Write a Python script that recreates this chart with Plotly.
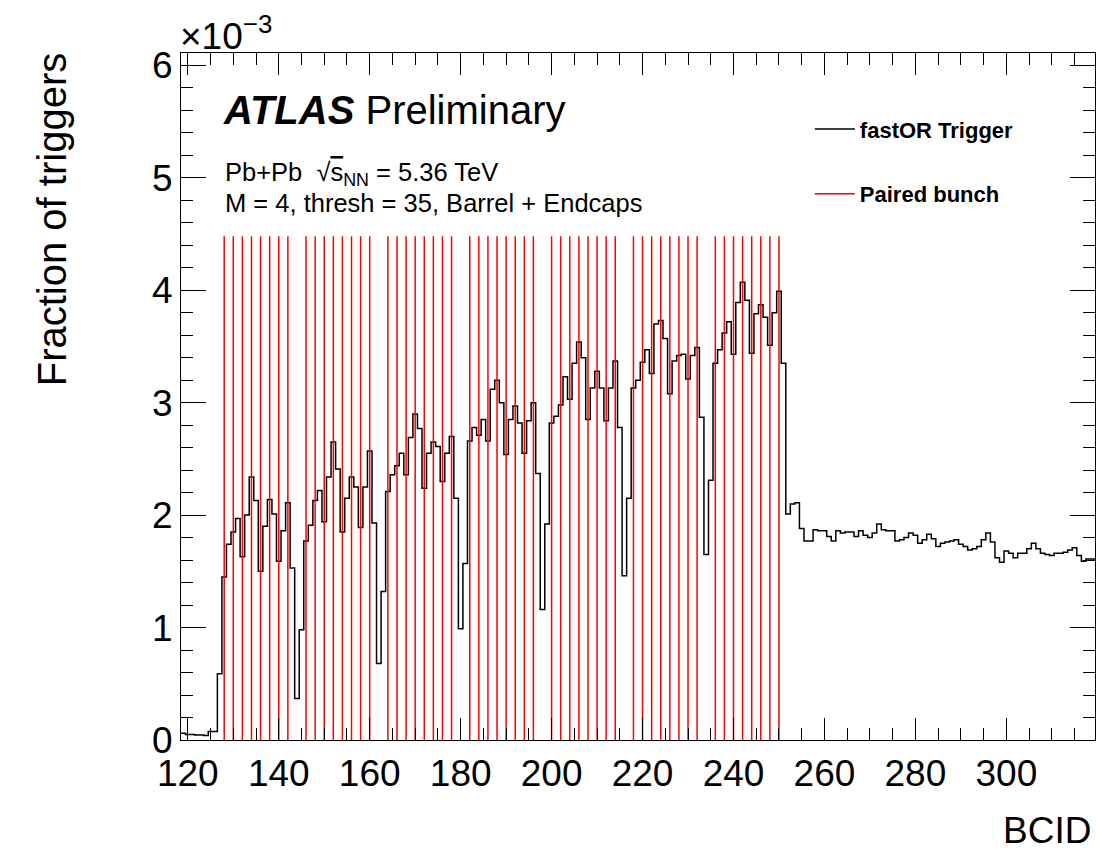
import plotly.graph_objects as go

# ---------------- data ----------------
first_bcid = 119
# Fraction of triggers per BCID, in units of 1e-3 (bins 119 .. 319)
fraction_e3 = [
    0.06, 0.05, 0.05, 0.045, 0.045, 0.04, 0.075, 0.075, 0.59,          # 119-127
    1.45, 1.74, 1.85, 1.97, 1.63, 2.00, 2.34, 2.13, 1.50, 1.90,        # 128-137
    2.14, 2.01, 1.59, 1.86, 2.11, 1.53, 0.37, 0.98, 1.77, 1.91,        # 138-147
    2.13, 2.22, 1.94, 2.34, 2.65, 2.41, 1.85, 2.15, 2.34, 2.25,        # 148-157
    1.89, 2.25, 2.57, 1.93, 0.68, 1.32, 2.21, 2.36, 2.44, 2.55,        # 158-167
    2.36, 2.69, 2.90, 2.77, 2.24, 2.55, 2.65, 2.61, 2.30, 2.55,        # 168-177
    2.70, 2.15, 0.99, 1.57, 2.66, 2.78, 2.71, 2.85, 2.66, 3.12,        # 178-187
    3.20, 3.00, 2.54, 2.85, 2.97, 2.82, 2.55, 2.84, 3.00, 2.37,        # 188-197
    1.16, 1.92, 2.82, 2.88, 2.98, 3.23, 3.03, 3.35, 3.54, 3.40,        # 198-207
    2.85, 3.13, 3.28, 3.13, 2.84, 3.13, 3.37, 2.78, 1.46, 2.15,        # 208-217
    3.13, 3.20, 3.36, 3.47, 3.26, 3.70, 3.73, 3.57, 3.08, 3.37,        # 218-227
    3.42, 3.43, 3.21, 3.42, 3.49, 2.87, 1.65, 2.31, 3.35, 3.47,        # 228-237
    3.62, 3.72, 3.43, 3.89, 4.07, 3.91, 3.44, 3.79, 3.87, 3.76,        # 238-247
    3.51, 3.80, 3.99, 3.35, 2.01, 2.10, 2.11, 1.88, 1.77, 1.77,        # 248-257
    1.87, 1.86, 1.86, 1.81, 1.77, 1.86, 1.84, 1.85, 1.85, 1.81,        # 258-267
    1.86, 1.82, 1.80, 1.84, 1.92, 1.87, 1.86, 1.86, 1.77, 1.78,        # 268-277
    1.80, 1.84, 1.82, 1.75, 1.78, 1.83, 1.79, 1.72, 1.75, 1.76,        # 278-287
    1.77, 1.78, 1.74, 1.72, 1.69, 1.70, 1.72, 1.78, 1.84, 1.76,        # 288-297
    1.62, 1.58, 1.68, 1.66, 1.62, 1.66, 1.66, 1.70, 1.75, 1.70,        # 298-307
    1.66, 1.65, 1.64, 1.66, 1.66, 1.67, 1.69, 1.71, 1.64, 1.59,        # 308-317
    1.61, 1.61,                                                        # 318-319
]
bcids = list(range(first_bcid, first_bcid + len(fraction_e3)))

paired_bunches = [
    128, 130, 132, 134, 136, 138, 140, 142,
    146, 148, 150, 152, 154, 156, 158, 160,
    164, 166, 168, 170, 172, 174, 176, 178,
    182, 184, 186, 188, 190, 192, 194, 196,
    200, 202, 204, 206, 208, 210, 212, 214,
    218, 220, 222, 224, 226, 228, 230, 232,
    236, 238, 240, 242, 244, 246, 248, 250,
]
paired_line_height_e3 = 4.48

x_tick_values = [120, 140, 160, 180, 200, 220, 240, 260, 280, 300]
y_tick_values = [0, 1, 2, 3, 4, 5, 6]

# ---------------- figure ----------------
FONT = "Liberation Sans, Arial, Helvetica, sans-serif"

# histogram as step line built from bin edges
edges = [b - 0.5 for b in bcids] + [bcids[-1] + 0.5]
step_y = fraction_e3 + [fraction_e3[-1]]

red_x, red_y = [], []
for b in paired_bunches:
    red_x += [b, b, None]
    red_y += [0, paired_line_height_e3, None]

fig = go.Figure()
fig.add_trace(go.Scatter(
    x=edges, y=step_y, mode="lines", line_shape="hv",
    line=dict(color="black", width=1.5),
    name="<b>fastOR Trigger</b>", legend="legend",
))
fig.add_trace(go.Scatter(
    x=red_x, y=red_y, mode="lines",
    line=dict(color="rgb(255,0,0)", width=1.5),
    name="<b>Paired bunch</b>", legend="legend2",
))

axis_common = dict(
    showgrid=False, zeroline=False, showline=True, linecolor="black",
    linewidth=1.2, mirror="ticks", ticks="inside", tickcolor="black",
    tickwidth=1.2, tickfont=dict(family=FONT, size=37, color="black"),
)

fig.update_layout(
    width=1100, height=856,
    margin=dict(l=181, r=5, t=53, b=116),
    paper_bgcolor="white", plot_bgcolor="white",
    font=dict(family=FONT, color="black"),
    xaxis=dict(range=[118.5, 319.5], tickvals=x_tick_values, ticklen=22,
               minor=dict(ticks="inside", ticklen=12, dtick=5, tick0=120,
                          tickcolor="black", tickwidth=1.2),
               **axis_common),
    yaxis=dict(range=[0, 6.11], tickvals=y_tick_values, ticklen=25,
               minor=dict(ticks="inside", ticklen=12, dtick=0.2, tick0=0,
                          tickcolor="black", tickwidth=1.2),
               **axis_common),
    legend=dict(x=0.688, y=0.889, xanchor="left", yanchor="middle",
                bgcolor="rgba(0,0,0,0)", font=dict(family=FONT, size=22),
                itemwidth=40),
    legend2=dict(x=0.688, y=0.795, xanchor="left", yanchor="middle",
                 bgcolor="rgba(0,0,0,0)", font=dict(family=FONT, size=22),
                 itemwidth=40),
    showlegend=True,
)

annotations = [
    dict(text="<b><i>ATLAS</i></b> Preliminary", x=0.0440, y=0.9164,
         xanchor="left", yanchor="middle", font=dict(size=40)),
    dict(text="Pb+Pb  √<span style='text-decoration:overline'>s</span><sub>NN</sub> = 5.36 TeV",
         x=0.0463, y=0.824, xanchor="left", yanchor="middle", font=dict(size=25.5)),
    dict(text="M = 4, thresh = 35, Barrel + Endcaps", x=0.0463, y=0.7815,
         xanchor="left", yanchor="middle", font=dict(size=25.5)),
    dict(text="×10<sup>−3</sup>", x=-0.003, y=1.0, xanchor="left", yanchor="bottom",
         yshift=-6, font=dict(size=37)),
    dict(text="Fraction of triggers", textangle=-90, x=-0.1408, y=0.757,
         xanchor="center", yanchor="middle", font=dict(size=40)),
    dict(text="BCID", x=0.9475, y=-0.132, xanchor="center", yanchor="middle",
         font=dict(size=37)),
]
for a in annotations:
    a.update(xref="paper", yref="paper", showarrow=False)
    a["font"].update(family=FONT, color="black")
fig.update_layout(annotations=annotations)

fig.write_html("out.html")
